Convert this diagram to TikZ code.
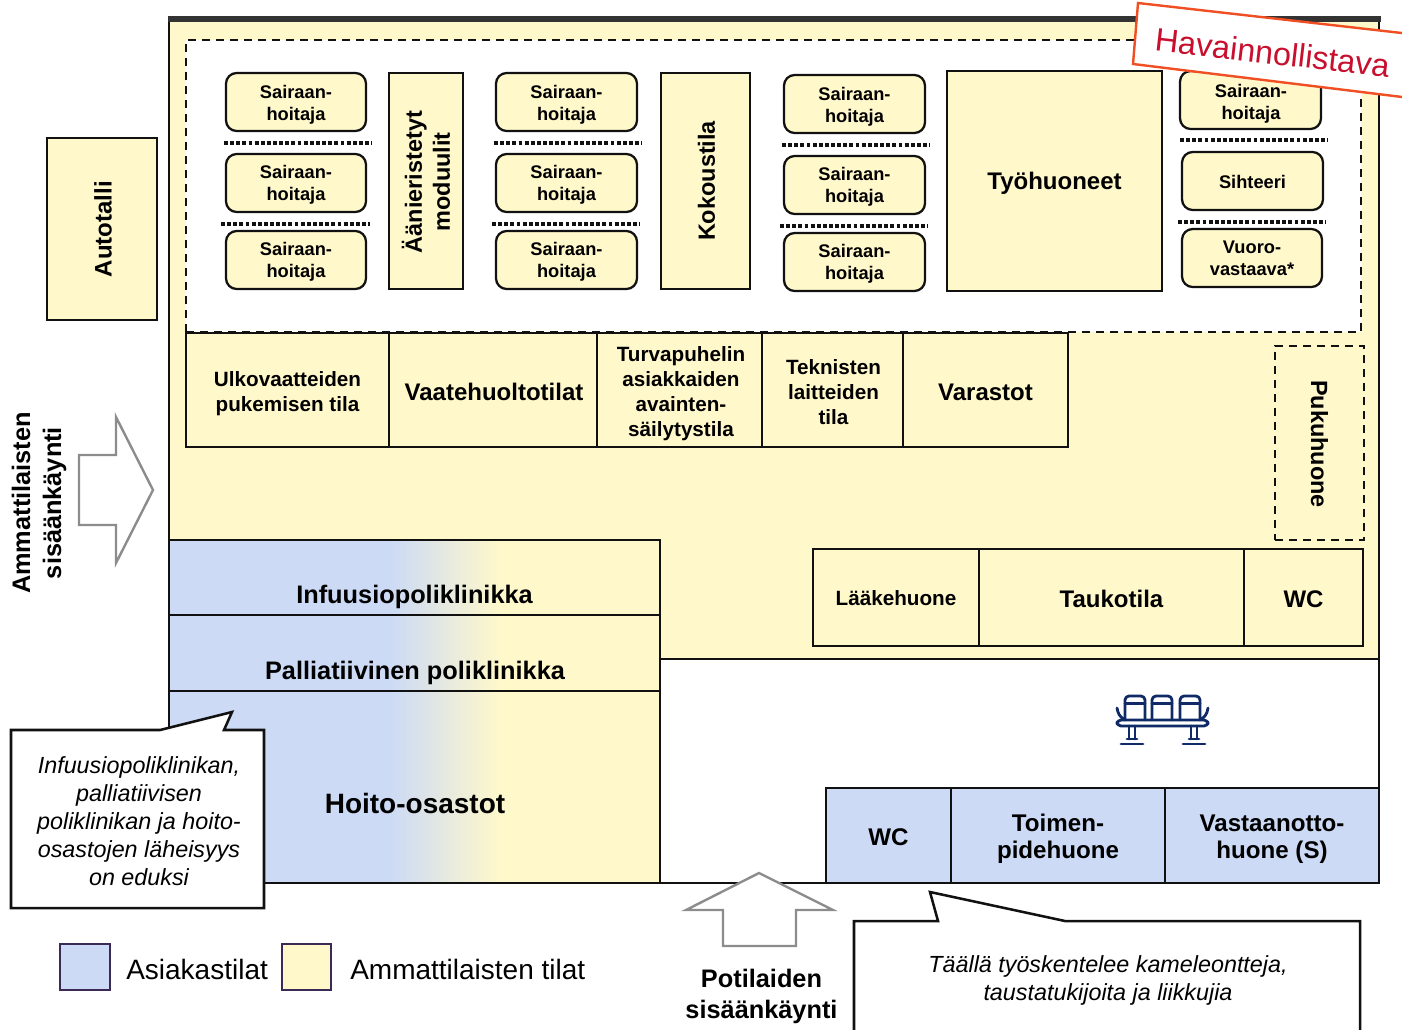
\documentclass[tikz,border=0pt]{standalone}
\usepackage{fontspec}
\setmainfont{Liberation Sans}
\definecolor{blu}{HTML}{CCDAF5}
\definecolor{yel}{HTML}{FFF8CB}
\definecolor{ln}{HTML}{111111}
\definecolor{arrgray}{HTML}{8C8C8C}
\definecolor{redline}{HTML}{F04E23}
\definecolor{redtxt}{HTML}{C8102E}
\definecolor{purp}{HTML}{3B2A55}
\definecolor{navy}{HTML}{0F2A66}
\tikzset{
 room/.style={draw=ln,line width=1.9pt,fill=yel,inner sep=0pt,align=center,outer sep=0pt},
 bluroom/.style={room,fill=blu},
 staff/.style={room,line width=1.7pt,rounded corners=8pt},
 fS/.style={font=\fontsize{13.7}{16.6}\selectfont\bfseries},
 fM/.style={font=\fontsize{15.5}{18.8}\selectfont\bfseries},
 fR/.style={font=\fontsize{17.6}{21}\selectfont\bfseries},
 fL/.style={font=\fontsize{18}{21}\selectfont\bfseries},
 fX/.style={font=\fontsize{19}{23.25}\selectfont\bfseries},
 fW/.style={font=\fontsize{18.1}{20.3}\selectfont\bfseries},
 fH/.style={font=\fontsize{21}{25}\selectfont\bfseries},
 fI/.style={font=\fontsize{17.5}{21}\selectfont\itshape,align=center,inner sep=0pt},
 fLeg/.style={font=\fontsize{21}{25}\selectfont,inner sep=0pt},
 txt/.style={inner sep=0pt,align=center},
 divider/.style={draw=ln,line width=2.8pt,dash pattern=on 2.9pt off 1.7pt},
 callout/.style={draw=ln,line width=1.9pt,fill=white,line join=miter},
 bigarrow/.style={draw=arrgray,line width=1.8pt,fill=white,line join=miter},
 legendbox/.style={draw=purp,line width=1.9pt,inner sep=0pt,outer sep=0pt},
 bench/.style={draw=navy,line width=2.1pt,line cap=round,line join=round},
}
% box: x1 y1 x2 y2 name style
\newcommand{\bx}[6]{%
 \node[#6,minimum width={(#3-#1)*0.75pt},minimum height={(#4-#2)*0.75pt}] (#5) at ({(#1+#3)/2},{(#2+#4)/2}) {};}
% label in box: name, offset x px, offset y px, font style, text
\newcommand{\lb}[5]{\node[#4,txt] at ([shift={(#2,#3)}]#1.center) {#5};}
\newcommand{\sn}[6]{\bx{#1}{#2}{#3}{#4}{#5}{staff}\lb{#5}{0}{#6}{fS}{Sairaan-\\hoitaja}}
\begin{document}
\begin{tikzpicture}[x=0.75pt,y=-0.75pt]
\useasboundingbox (0,0) rectangle (1402,1029);
\begin{scope}
\clip (0,0) rectangle (1402,1029);
% building
\fill[yel] (169,18) rectangle (1379,659);
\draw[ln,line width=1.9pt] (660,659) -- (1379,659) -- (1379,883) -- (264,883);
\draw[ln,line width=2pt] (169,730) -- (169,17) (1379,17) -- (1379,659);
\draw[black!80,line width=4.4pt] (167.5,19) -- (1380.5,19);
% staff area
\fill[white] (186,40) rectangle (1361,332);
\draw[ln,line width=1.6pt,dash pattern=on 6.2pt off 4.3pt] (186,332) -- (186,40) -- (1361,40) -- (1361,332) -- (186,332);
% staff boxes
\sn{226}{73}{366}{131}{a1}{3}
\sn{226}{154}{366}{212}{a2}{2}
\sn{226}{231}{366}{289}{a3}{2}
\sn{496}{73}{637}{131}{b1}{3}
\sn{496}{154}{637}{212}{b2}{2}
\sn{496}{231}{637}{289}{b3}{2}
\sn{784}{75}{925}{133}{c1}{3}
\sn{784}{156}{925}{214}{c2}{2}
\sn{784}{233}{925}{291}{c3}{2}
\bx{1180}{71}{1321}{129}{d1}{staff}\lb{d1}{0.5}{4}{fS}{Sairaan-\\hoitaja}
\bx{1182}{152}{1323}{210}{d2}{staff}\lb{d2}{0}{1}{fS}{Sihteeri}
\bx{1182}{229}{1322}{287}{d3}{staff}\lb{d3}{0}{0}{fS}{Vuoro-\\vastaava*}
% dividers
\coordinate (dA1) at (224,143); \coordinate (dB1) at (372,143);
\coordinate (dA2) at (221,224); \coordinate (dB2) at (370,224);
\coordinate (dA3) at (494,143); \coordinate (dB3) at (642,143);
\coordinate (dA4) at (492,224); \coordinate (dB4) at (640,224);
\coordinate (dA5) at (782,145); \coordinate (dB5) at (930,145);
\coordinate (dA6) at (780,226); \coordinate (dB6) at (928,226);
\coordinate (dA7) at (1180,140); \coordinate (dB7) at (1328,140);
\coordinate (dA8) at (1178,222); \coordinate (dB8) at (1326,222);
\foreach \i in {1,...,8} \draw[divider] (dA\i) -- (dB\i);
% modules
\bx{389}{73}{463}{289}{mod}{room}
\node[fR,txt,rotate=90] at ([shift={(0,1)}]mod.center) {Äänieristetyt\\moduulit};
\bx{661}{73}{750}{289}{kok}{room}
\node[fR,txt,rotate=90] at ([shift={(1,0)}]kok.center) {Kokoustila};
\bx{947}{71}{1162}{291}{tyo}{room}\lb{tyo}{0}{2}{fL}{Työhuoneet}
\bx{47}{138}{157}{320}{auto}{room}
\node[fL,txt,rotate=90] at ([shift={(1,0)}]auto.center) {Autotalli};
% middle row
\bx{186}{333}{389}{447}{ulko}{room}\lb{ulko}{0}{4}{fM}{Ulkovaatteiden\\pukemisen tila}
\bx{389}{333}{597}{447}{vaate}{room}\lb{vaate}{1}{2}{fL}{Vaatehuoltotilat}
\bx{597}{333}{762}{447}{turva}{room}\lb{turva}{1.5}{4}{fM}{Turvapuhelin\\asiakkaiden\\avainten-\\säilytystila}
\bx{762}{333}{903}{447}{tekn}{room}\lb{tekn}{1}{2}{fM}{Teknisten\\laitteiden\\tila}
\bx{903}{333}{1068}{447}{var}{room}\lb{var}{0}{2}{fL}{Varastot}
% pukuhuone
\node[draw=ln,line width=1.6pt,dash pattern=on 6pt off 4.5pt,minimum width=66.75pt,minimum height=145.5pt,inner sep=0pt] (puku) at (1319.5,443) {};
\node[fR,txt,rotate=-90] at ([shift={(0,1)}]puku.center) {Pukuhuone};
% staff rooms right
\bx{813}{549}{979}{646}{laake}{room}\lb{laake}{0}{1}{fM}{Lääkehuone}
\bx{979}{549}{1244}{646}{tauko}{room}\lb{tauko}{0}{1.5}{fL}{Taukotila}
\bx{1244}{549}{1363}{646}{wcA}{room}\lb{wcA}{0}{2}{fL}{WC}
% patient rooms
\foreach \ya/\yb in {540/615,615/691,691/883}{
 \fill[blu] (169,\ya) rectangle (390,\yb);
 \shade[left color=blu,right color=yel] (390,\ya) rectangle (500,\yb);
 \fill[yel] (500,\ya) rectangle (660,\yb);
}
\draw[ln,line width=1.5pt] (169,540) rectangle (660,615);
\draw[ln,line width=1.5pt] (169,615) rectangle (660,691);
\draw[ln,line width=1.5pt] (169,691) rectangle (660,883);
\node[fX,txt] (inf) at (414.5,597) {Infuusiopoliklinikka};
\node[fX,txt] (pal) at (415,673) {Palliatiivinen poliklinikka};
\node[fH,txt] (hoi) at (415,803) {Hoito-osastot};
% lower rooms
\bx{826}{788}{951}{883}{wcB}{bluroom}\lb{wcB}{0}{2}{fW}{WC}
\bx{951}{788}{1165}{883}{toim}{bluroom}\lb{toim}{0}{3.5}{fW}{Toimen-\\pidehuone}
\bx{1165}{788}{1379}{883}{vast}{bluroom}\lb{vast}{0}{3.5}{fW}{Vastaanotto-\\huone (S)}
% bench icon
\begin{scope}[bench]
 \foreach \xa in {1125,1152,1180}{
  \draw[rounded corners=3pt] (\xa,720) -- (\xa,696) -- (\xa+20,696) -- (\xa+20,720);
  \draw (\xa,703.5) -- (\xa+20,703.5);
 }
 \draw[rounded corners=3pt] (1117,720) rectangle (1208,726);
 \draw (1117,708) .. controls (1118,714) and (1120,717) .. (1124,719);
 \draw (1208,708) .. controls (1207,714) and (1205,717) .. (1201,719);
 \draw (1129,726) -- (1129,739) (1135,726) -- (1135,739);
 \draw (1191,726) -- (1191,739) (1197,726) -- (1197,739);
 \draw (1127,739) -- (1137,739) (1121,744) -- (1143,744);
 \draw (1189,739) -- (1199,739) (1183,744) -- (1205,744);
\end{scope}
% arrows
\draw[bigarrow] (79,455) -- (116,455) -- (116,417) -- (153,490) -- (116,563) -- (116,525) -- (79,525) -- cycle;
\draw[bigarrow] (759,873) -- (686,910) -- (723,910) -- (723,946) -- (796,946) -- (796,910) -- (833,910) -- cycle;
\node[fX,txt,rotate=90] (amm) at (39,503) {Ammattilaisten\\sisäänkäynti};
\node[fX,txt] (pot) at (761.5,996.5) {Potilaiden\\sisäänkäynti};
% callouts
\draw[callout] (11,730) -- (160,730) -- (232,712) -- (224,730) -- (264,730) -- (264,908) -- (11,908) -- cycle;
\node[fI] (cA) at (139,821) {Infuusiopoliklinikan,\\palliatiivisen\\poliklinikan ja hoito-\\osastojen läheisyys\\on eduksi};
\draw[callout] (854,1040) -- (854,921) -- (938,921) -- (930,892) -- (1065,921) -- (1360,921) -- (1360,1040);
\node[fI] (cB) at (1108,980) {Täällä työskentelee kameleontteja,\\taustatukijoita ja liikkujia};
% legend
\node[legendbox,fill=blu,minimum width=37.5pt,minimum height=34.5pt] (l1) at (85,967) {};
\node[legendbox,fill=yel,minimum width=36.75pt,minimum height=34.5pt] (l2) at (306.5,967) {};
\node[fLeg,anchor=west] (lt1) at (126,969) {Asiakastilat};
\node[fLeg,anchor=west] (lt2) at (350,969) {Ammattilaisten tilat};
% stamp
\draw[redline,line width=1.8pt,fill=white] (1138,3) -- (1450,38.5) -- (1443,102) -- (1133,64) -- cycle;
\node[redtxt,font=\fontsize{24.3}{28}\selectfont,inner sep=0pt,rotate=-6.5] (stamp) at (1272.5,52.5) {Havainnollistava};
\end{scope}
\end{tikzpicture}
\end{document}
